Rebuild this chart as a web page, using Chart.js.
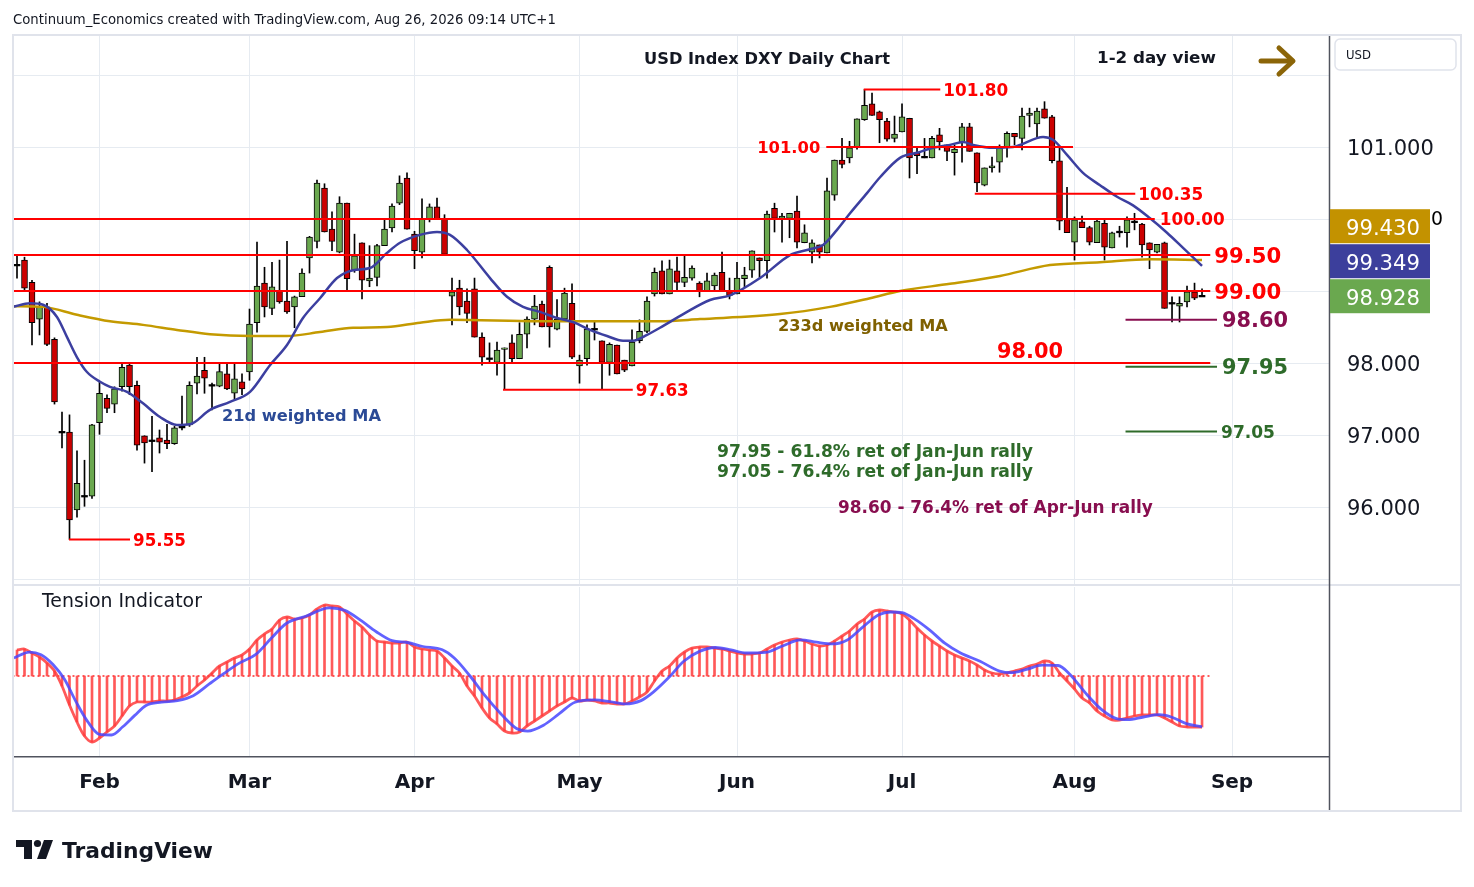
<!DOCTYPE html>
<html><head><meta charset="utf-8">
<script src="https://cdn.jsdelivr.net/npm/chart.js@4/dist/chart.umd.min.js"></script>
<style>
html,body{margin:0;padding:0;background:#fff;}
#wrap{position:relative;width:1474px;height:887px;overflow:hidden;background:#fff;}
canvas{position:absolute;left:0;}
#c1{top:0;}
#c2{top:586px;}
#frame{position:absolute;left:12px;top:34px;width:1450px;height:778px;box-sizing:border-box;border:2px solid #e0e3eb;pointer-events:none;}
</style></head>
<body><div id="wrap">
<canvas id="c1" width="1474" height="614"></canvas>
<canvas id="c2" width="1474" height="301"></canvas>
<div id="frame"></div>
</div>
<script>
// ---------------- DATA ----------------
// Daily candles, Jan 16 2026 .. Aug 26 2026 (trading-day index 0..158)
const openP = [
99.36,99.43,99.12,98.61,98.78,98.33,97.04,97.04,95.96,96.15,
96.15,97.17,97.51,97.43,97.67,97.97,97.69,96.99,96.92,96.96,
96.93,96.88,97.11,97.14,97.72,97.90,97.69,97.68,97.85,97.58,
97.74,97.875,98.56,99.11,98.76,99.01,98.86,98.78,98.92,99.46,
99.69,100.43,99.86,99.54,100.22,99.29,99.67,99.14,99.19,99.63,
99.875,100.22,100.57,99.79,99.54,99.99,100.17,100.01,98.93,99.04,
98.86,99.03,98.36,98.06,98.01,98.19,98.28,98.06,98.40,98.61,
98.82,99.33,98.47,98.61,98.83,97.96,98.06,98.47,98.31,98.01,
98.25,98.04,97.96,98.31,98.44,98.96,99.28,98.96,99.28,99.12,
99.18,99.11,98.99,99.07,99.26,99.00,98.96,99.17,99.29,99.46,
99.42,100.15,100.01,100.01,100.11,99.67,99.54,99.64,99.53,100.33,
100.82,100.85,100.99,101.38,101.60,101.49,101.36,101.12,101.21,101.40,
100.92,100.86,100.85,101.17,101.03,100.92,101.06,101.28,100.92,100.47,
100.71,100.79,100.99,101.19,101.12,101.44,101.32,101.53,101.42,100.81,
100.01,99.68,99.96,99.88,99.67,99.94,99.60,99.82,99.81,99.96,
99.93,99.67,99.54,99.67,98.83,98.79,98.85,98.99,98.93];
const highP = [
99.50,99.47,99.15,98.85,98.83,98.35,97.32,97.28,96.78,96.65,
97.15,97.74,97.56,97.67,97.99,97.99,97.75,96.99,97.26,97.07,
97.15,97.12,97.54,97.74,98.08,98.08,97.72,98.00,98.00,97.99,
97.85,98.75,99.68,99.33,99.40,99.43,99.69,98.93,99.31,99.76,
100.54,100.49,100.10,100.31,100.22,99.79,99.67,99.63,99.65,99.99,
100.21,100.60,100.64,99.83,100.28,100.21,100.29,100.06,99.18,99.15,
99.03,99.18,98.42,98.28,98.29,98.21,98.39,98.56,98.64,98.94,
98.86,99.35,98.88,99.04,99.10,98.11,98.53,98.57,98.31,98.28,
98.25,98.04,98.46,98.60,98.92,99.32,99.42,99.43,99.47,99.49,
99.35,99.13,99.25,99.25,99.54,99.18,99.40,99.33,99.56,99.46,
100.11,100.22,100.08,100.08,100.32,99.92,99.71,99.64,100.57,100.82,
101.12,101.08,101.39,101.80,101.75,101.50,101.40,101.43,101.60,101.40,
100.99,101.12,101.15,101.26,101.03,101.03,101.33,101.33,100.92,100.71,
100.86,101.03,101.21,101.19,101.54,101.54,101.54,101.63,101.44,101.00,
100.44,100.03,100.04,99.90,100.01,100.01,99.82,99.90,100.03,100.08,
99.94,99.67,99.65,99.68,98.92,98.92,99.07,99.11,99.03];
const lowP = [
99.18,99.00,98.25,98.39,98.24,97.43,96.82,95.55,95.86,96.01,
96.12,97.01,97.31,97.31,97.61,97.56,96.79,96.61,96.49,96.75,
96.81,96.87,97.07,97.12,97.57,97.58,97.35,97.67,97.63,97.50,
97.56,97.76,98.43,98.64,98.67,98.83,98.69,98.49,98.92,99.25,
99.60,99.82,99.56,99.53,98.99,99.26,98.89,99.06,99.07,99.63,
99.82,100.20,99.86,99.31,99.46,99.96,99.99,99.50,98.53,98.67,
98.56,98.36,97.97,98.01,97.83,97.63,98.01,98.06,98.21,98.53,
98.50,98.22,98.46,98.58,98.06,97.72,97.97,98.32,97.63,97.83,
97.85,97.88,97.96,98.28,98.42,98.93,98.96,98.96,98.99,99.06,
99.15,98.92,98.99,99.01,99.00,98.89,98.96,99.06,99.19,99.19,
99.18,99.82,99.68,99.74,99.60,99.67,99.39,99.46,99.53,100.26,
100.71,100.78,100.97,101.37,101.44,101.06,101.08,101.07,101.21,100.57,
100.63,100.85,100.85,100.96,100.81,100.61,100.79,100.94,100.38,100.46,
100.65,100.65,100.86,101.03,100.96,101.28,101.14,101.40,100.78,99.85,
99.81,99.43,99.88,99.64,99.67,99.43,99.60,99.75,99.61,99.85,
99.47,99.31,99.53,98.76,98.57,98.57,98.78,98.88,98.92];
const closeP = [
99.36,99.04,98.56,98.78,98.26,97.46,97.04,95.82,96.33,96.15,
97.14,97.58,97.37,97.64,97.94,97.67,96.86,96.89,96.92,96.90,
96.88,97.10,97.11,97.69,97.82,97.79,97.69,97.88,97.64,97.78,
97.64,98.54,99.07,98.78,99.06,98.85,98.71,98.92,99.25,99.75,
100.50,99.82,99.69,100.22,99.17,99.49,99.15,99.18,99.63,99.86,
100.18,100.50,99.86,99.56,100.00,100.17,99.99,99.51,98.99,98.78,
98.69,98.36,98.08,98.06,98.18,98.21,98.06,98.40,98.61,98.79,
98.50,98.50,98.61,98.97,98.08,98.04,98.47,98.47,98.01,98.26,
97.85,97.90,98.29,98.44,98.86,99.26,98.96,99.31,99.12,99.19,
99.32,99.00,99.14,99.22,99.00,98.94,99.18,99.22,99.56,99.42,
100.07,100.01,100.04,100.08,99.68,99.81,99.67,99.54,100.39,100.82,
100.76,100.99,101.39,101.58,101.44,101.38,101.11,101.18,101.42,100.85,
100.88,100.86,101.12,101.07,100.94,100.97,101.28,100.94,100.50,100.71,
100.74,100.99,101.19,101.14,101.43,101.47,101.50,101.40,100.81,99.97,
99.81,99.99,99.88,99.68,99.97,99.61,99.81,99.82,99.99,99.96,
99.64,99.57,99.65,98.76,98.83,98.83,98.99,98.90,98.928];

// 21d weighted MA  [trading-day index, value]
const ma21 = [[-0.53,98.78],[1.73,98.83],[3.47,98.81],[5.33,98.64],[6.67,98.36],[8,98.08],[9.33,97.875],[11.07,97.74],[12.4,97.67],[14.67,97.6],[16.8,97.44],[19.07,97.25],[21.33,97.14],[23.07,97.15],[25.73,97.35],[28.4,97.46],[31.07,97.6],[33.73,97.97],[36,98.25],[38.13,98.625],[40.4,98.9],[42.67,99.18],[44.8,99.29],[47.07,99.32],[49.33,99.53],[51.07,99.67],[53.73,99.78],[56,99.82],[57.73,99.78],[60,99.57],[63.07,99.18],[65.33,98.92],[67.47,98.78],[69.73,98.71],[72,98.625],[74.13,98.57],[76.4,98.46],[78.67,98.375],[80.8,98.31],[82.13,98.31],[84,98.39],[85.73,98.49],[89,98.69],[92.4,98.875],[95.07,98.94],[99.07,99.18],[103.07,99.5],[105.73,99.58],[107.47,99.64],[109.33,99.85],[111.07,100.08],[113.33,100.36],[115.07,100.58],[117.73,100.85],[120,100.92],[122.13,100.99],[124.4,101.03],[126.13,101.07],[127.47,101.03],[130.13,100.99],[132.8,101.0],[133.73,101.03],[136.8,101.14],[138.13,101.1],[140,100.89],[142.13,100.64],[144.4,100.47],[146.67,100.31],[148.8,100.19],[151.07,100.01],[153.33,99.81],[155.47,99.6],[158,99.35]];
// 233d weighted MA
const ma233 = [[-0.53,98.79],[3.47,98.78],[8,98.67],[12.4,98.58],[16.8,98.53],[21.33,98.46],[25.73,98.40],[31.07,98.375],[36,98.375],[40.4,98.43],[44.8,98.49],[49.33,98.5],[53.73,98.56],[57.73,98.6],[69.73,98.58],[85.73,98.58],[91.07,98.61],[101.73,98.68],[108.4,98.78],[113.73,98.9],[117.73,99.0],[124.4,99.1],[131.07,99.21],[137.73,99.36],[144.4,99.40],[151.07,99.44],[158,99.43]];

// Tension indicator (one value per candle) and its signal line
const tensionVals = [26,27,23,19,13,5,-10,-29,-46,-60, -66,-62,-56,-50,-40,-30,-26,-26,-26,-25,
 -25,-24,-21,-17,-10,-4,3,10,14,18, 21,27,36,42,47,56,59,57,58,61,
 67,71,70,69,62,55,49,41,35,34, 33,33,34,29,27,26,25,18,10,3,
 -10,-20,-32,-42,-48,-55,-57,-56,-50,-45, -40,-35,-30,-26,-22,-25,-24,-25,-27,-27,
 -28,-28,-25,-21,-16,-5,5,10,18,24, 28,29,29,28,27,25,23,22,22,23,
 27,31,34,36,37,35,32,30,31,35, 40,45,52,57,64,66,65,64,62,56,
 48,41,35,30,25,21,18,15,11,6, 3,2,3,5,7,10,12,15,13,3,
 -5,-13,-22,-27,-35,-40,-44,-44,-42,-40, -39,-39,-39,-42,-46,-50,-51,-51,-51];
const tensionSignal = [[-0.41,18],[1.67,23.9],[3.2,21.3],[4.8,11.5],[6.33,-3.3],[7.9,-26.2],[9.45,-45.9],[11,-58.4],[12.6,-59],[14.1,-50.8],[15.7,-39.4],[17.2,-29.5],[19.3,-26.2],[21.4,-24.6],[23.5,-19.7],[25.6,-8.2],[27.6,2.6],[29.7,13.1],[31.8,21.3],[33.9,37.7],[35.9,52.5],[38.5,59.7],[41.65,68.2],[43.7,65.6],[45.8,55.8],[47.9,44.3],[50,35.4],[52.05,33.5],[54.1,29.5],[56.7,26.2],[58.3,18],[60.4,0],[62.4,-19.7],[64.5,-37.7],[66.6,-52.5],[68.1,-55.1],[70.2,-49.2],[72.3,-37.7],[74.4,-26.2],[77,-23.9],[79.07,-25.6],[81.1,-27.9],[83.2,-24.6],[84.8,-16.4],[86.9,-1.6],[88.9,14.8],[91,24.6],[93.1,28.5],[95.2,26.2],[97.2,23],[99.8,23.6],[101.9,29.5],[104.5,36.1],[106.6,33.8],[108.7,32.1],[110.7,36.1],[112.8,49.2],[114.9,61.3],[116.5,64],[118,63.3],[119.6,57.4],[121.7,45.9],[123.7,32.8],[125.8,23],[128.4,14.8],[131,4.9],[132.6,3.3],[134.6,6.6],[136.7,10.8],[138.8,10.5],[140.4,1.6],[142.4,-16.4],[144.5,-32.8],[146.6,-42.6],[148.1,-43.6],[150.2,-41],[152.3,-38.7],[153.9,-41],[155.9,-47.6],[158,-50.8]];

// Key levels
const levelValues = [101.80, 101.00, 100.35, 100.00, 99.50, 99.00, 98.00, 95.55, 97.63, 98.60, 97.95, 97.05];
// Month tick labels (trading-day index of first session)
const monthIdx = [11, 31, 53, 75, 96, 118, 141, 162];
const monthNames = ['Feb', 'Mar', 'Apr', 'May', 'Jun', 'Jul', 'Aug', 'Sep'];
const priceGrid = [95, 96, 97, 98, 99, 100, 101, 102];
const priceShown = [101, 98, 97, 96];
const lastValues = [99.430, 99.349, 98.928];   // 233d MA, 21d MA, last close

// ---------------- STYLE / LAYOUT ----------------
const FONT = '"DejaVu Sans", Verdana, sans-serif';
const GRID = '#e6ebf1';
const RED = '#ff0000', MAROON = '#880e4f', DKGREEN = '#2e6b2a';
const UP = '#6aa84f', DOWN = '#cc0000';
const X_MIN = -0.5333, X_MAX = 174.93;
const Y_MIN = 94.931, Y_MAX = 102.556;
const levelSpan = [[112.9,123.1],[107.9,140.8],[127.7,149.1],[-0.6,151.7],[-0.6,159.1],[-0.6,159.1],[-0.6,159.1],[6.93,15.07],[64.8,82.1],[147.8,160.0],[147.8,160.0],[147.8,160.0]];
const levelStyle = [
 {c:RED, side:'right', w:65, gap:3}, {c:RED, side:'left', w:63, gap:6}, {c:RED, side:'right', w:65, gap:3},
 {c:RED, side:'right', w:65, gap:5}, {c:RED, side:'right', w:67, gap:4}, {c:RED, side:'right', w:67, gap:4},
 {c:RED, side:'free', at:130.67, w:66, dy:-13}, {c:RED, side:'right', w:53, gap:3}, {c:RED, side:'right', w:53, gap:3},
 {c:MAROON, side:'right', w:66, gap:5}, {c:DKGREEN, side:'right', w:66, gap:5}, {c:DKGREEN, side:'right', w:54, gap:4}];
const boxColors = ['#c39200', '#3c3f9c', '#6aa84f'];

// draws text fitted to a width; y is the visual centre of capitals/digits
function fitText(ctx, text, x, y, w, color, weight, align) {
  ctx.font = (weight||'normal') + ' 100px ' + FONT;
  const s = 100 * w / ctx.measureText(text).width;
  ctx.font = (weight||'normal') + ' ' + s.toFixed(2) + 'px ' + FONT;
  ctx.fillStyle = color; ctx.textAlign = align || 'left'; ctx.textBaseline = 'alphabetic';
  ctx.fillText(text, x, y + 0.365 * s);
}

const idx = openP.map((_, i) => i);
const isDoji = i => Math.abs(closeP[i] - openP[i]) < 0.012;
const wickData = idx.map(i => ({x: i, y: [lowP[i], highP[i]]}));
const bodyData = idx.map(i => {
  if (isDoji(i)) { const m = (openP[i] + closeP[i]) / 2; return {x: i, y: [m - 0.011, m + 0.011]}; }
  return {x: i, y: [openP[i], closeP[i]]};
});
const bodyColor = idx.map(i => isDoji(i) ? '#000' : (closeP[i] > openP[i] ? UP : DOWN));
const bodyBorder = idx.map(i => isDoji(i) ? 0 : 1);

const levelDatasets = levelValues.map((v, k) => ({
  type: 'line', data: [{x: levelSpan[k][0], y: v}, {x: levelSpan[k][1], y: v}],
  borderColor: levelStyle[k].c, borderWidth: 2, pointRadius: 0, order: 0
}));

const xTicks = s => { s.ticks = monthIdx.map(v => ({value: v})); };

const annot1 = {
  id: 'annot1',
  afterDraw(chart) {
    const ctx = chart.ctx, xs = chart.scales.x, ys = chart.scales.y;
    ctx.save();
    // level labels
    levelValues.forEach((v, k) => {
      const st = levelStyle[k], txt = v.toFixed(2);
      const y = ys.getPixelForValue(v) + (st.dy || 0);
      if (st.side === 'right') fitText(ctx, txt, xs.getPixelForValue(levelSpan[k][1]) + st.gap, y, st.w, st.c, 'bold', 'left');
      else if (st.side === 'left') fitText(ctx, txt, xs.getPixelForValue(levelSpan[k][0]) - st.gap, y, st.w, st.c, 'bold', 'right');
      else fitText(ctx, txt, xs.getPixelForValue(st.at), y, st.w, st.c, 'bold', 'left');
    });
    // notes
    fitText(ctx, '233d weighted MA', 778, 325, 170, '#7f6000', 'bold');
    fitText(ctx, '21d weighted MA', 222, 415, 159, '#2b4a96', 'bold');
    fitText(ctx, '97.95 - 61.8% ret of Jan-Jun rally', 717, 451, 316, DKGREEN, 'bold');
    fitText(ctx, '97.05 - 76.4% ret of Jan-Jun rally', 717, 471, 316, DKGREEN, 'bold');
    fitText(ctx, '98.60 - 76.4% ret of Apr-Jun rally', 838, 507, 315, MAROON, 'bold');
    fitText(ctx, 'USD Index DXY Daily Chart', 644, 58, 246, '#131722', 'bold');
    fitText(ctx, '1-2 day view', 1097, 57, 119, '#131722', 'bold');
    fitText(ctx, 'Continuum_Economics created with TradingView.com, Aug 26, 2026 09:14 UTC+1', 13, 19, 543, '#131722', 'normal');
    // arrow
    ctx.strokeStyle = '#8b6508'; ctx.lineWidth = 5; ctx.lineCap = 'round'; ctx.lineJoin = 'round';
    ctx.beginPath(); ctx.moveTo(1261, 61); ctx.lineTo(1292, 61); ctx.stroke();
    ctx.beginPath(); ctx.moveTo(1279, 48); ctx.lineTo(1293, 61); ctx.lineTo(1279, 74); ctx.stroke();
    // separators
    ctx.lineCap = 'butt';
    ctx.strokeStyle = '#e0e3eb'; ctx.lineWidth = 2;
    ctx.beginPath(); ctx.moveTo(12, 585); ctx.lineTo(1462, 585); ctx.stroke();
    ctx.strokeStyle = '#50535e'; ctx.lineWidth = 1.5;
    ctx.beginPath(); ctx.moveTo(1329.5, 35); ctx.lineTo(1329.5, 586); ctx.stroke();
    // USD box
    ctx.strokeStyle = '#e0e3eb'; ctx.lineWidth = 1.5;
    ctx.beginPath(); ctx.roundRect(1335, 39, 121, 31, 5); ctx.stroke();
    fitText(ctx, 'USD', 1346, 55, 25, '#131722', 'normal');
    // last value boxes
    const pos = lastValues.map((v, k) => ({v, k, y: ys.getPixelForValue(v)})).sort((a, b) => b.y - a.y);
    let prev = Infinity;
    pos.forEach(p => { p.cy = Math.min(p.y, prev - 35); prev = p.cy; });
    pos.forEach(p => {
      ctx.fillStyle = boxColors[p.k];
      ctx.fillRect(1330, p.cy - 17, 100, 34);
      fitText(ctx, p.v.toFixed(3), 1346, p.cy + 1, 74, '#ffffff', 'normal');
    });
    const top = pos[pos.length - 1];
    fitText(ctx, '0', 1431, top.cy - 8, 12, '#000000', 'normal');
    ctx.restore();
  }
};

new Chart(document.getElementById('c1'), {
  type: 'bar',
  data: { datasets: [
    ...levelDatasets,
    {type: 'line', data: ma21.map(p => ({x: p[0], y: p[1]})), borderColor: '#3c3fa0', borderWidth: 2.5, pointRadius: 0, cubicInterpolationMode: 'monotone', order: 1},
    {type: 'line', data: ma233.map(p => ({x: p[0], y: p[1]})), borderColor: '#c49a00', borderWidth: 2.5, pointRadius: 0, cubicInterpolationMode: 'monotone', order: 1},
    {type: 'bar', data: bodyData, backgroundColor: bodyColor, borderColor: '#000', borderWidth: bodyBorder, borderSkipped: false, barThickness: 6, grouped: false, order: 2},
    {type: 'bar', data: wickData, backgroundColor: '#000', barThickness: 1, grouped: false, order: 3}
  ]},
  options: {
    responsive: false, animation: false, devicePixelRatio: 1,
    layout: {padding: {left: 13, top: 35, right: 13, bottom: 0}},
    plugins: {legend: {display: false}, tooltip: {enabled: false}},
    scales: {
      x: {type: 'linear', min: X_MIN, max: X_MAX, offset: false,
          grid: {offset: false, color: GRID, drawTicks: false}, border: {display: false},
          ticks: {display: false}, afterBuildTicks: xTicks, afterFit: s => { s.height = 0; }},
      y: {type: 'linear', position: 'right', min: Y_MIN, max: Y_MAX,
          grid: {color: GRID, drawTicks: false}, border: {display: false},
          ticks: {padding: 18, labelOffset: 3, color: '#131722', font: {family: FONT, size: 21, lineHeight: 24 / 21},
                  callback: v => priceShown.includes(v) ? v.toFixed(3) : ''},
          afterBuildTicks: s => { s.ticks = priceGrid.map(v => ({value: v})); },
          afterFit: s => { s.width = 132; }}
    }
  },
  plugins: [annot1]
});

const annot2 = {
  id: 'annot2',
  afterDraw(chart) {
    const ctx = chart.ctx;
    ctx.save();
    fitText(ctx, 'Tension Indicator', 42, 14, 160, '#131722', 'normal');
    ctx.strokeStyle = '#50535e'; ctx.lineWidth = 1.5;
    ctx.beginPath(); ctx.moveTo(1329.5, 0); ctx.lineTo(1329.5, 226); ctx.stroke();
    // TradingView logo
    const oy = 586;
    ctx.fillStyle = '#131722';
    ctx.fillRect(16, 840 - oy, 16, 7);
    ctx.fillRect(24, 840 - oy, 8, 19);
    ctx.beginPath(); ctx.arc(37.5, 843.5 - oy, 3.6, 0, Math.PI * 2); ctx.fill();
    ctx.beginPath(); ctx.moveTo(44, 840 - oy); ctx.lineTo(53, 840 - oy); ctx.lineTo(46, 859 - oy); ctx.lineTo(37, 859 - oy); ctx.closePath(); ctx.fill();
    fitText(ctx, 'TradingView', 62, 850 - oy, 151, '#131722', 'bold');
    ctx.restore();
  }
};

new Chart(document.getElementById('c2'), {
  type: 'bar',
  data: { datasets: [
    {type: 'line', data: [{x: -0.6, y: 0}, {x: 159.2, y: 0}], borderColor: '#ff2a2a', borderWidth: 1.5, borderDash: [2, 3], pointRadius: 0, order: 3},
    {type: 'line', data: tensionSignal.map(p => ({x: p[0], y: p[1]})), borderColor: 'rgba(70,70,255,0.85)', borderWidth: 2.8, pointRadius: 0, cubicInterpolationMode: 'monotone', order: 0},
    {type: 'line', data: idx.map(i => ({x: i, y: tensionVals[i]})), borderColor: 'rgba(255,60,60,0.85)', borderWidth: 2.8, pointRadius: 0, tension: 0.3, order: 1},
    {type: 'bar', data: idx.map(i => ({x: i, y: tensionVals[i]})), backgroundColor: 'rgba(255,60,60,0.85)', barThickness: 2, grouped: false, order: 2}
  ]},
  options: {
    responsive: false, animation: false, devicePixelRatio: 1,
    layout: {padding: {left: 13, top: 1, right: 13, bottom: 75}},
    plugins: {legend: {display: false}, tooltip: {enabled: false}},
    scales: {
      x: {type: 'linear', min: X_MIN, max: X_MAX, offset: false,
          grid: {offset: false, color: GRID, drawTicks: false},
          border: {display: true, color: '#50535e', width: 1.5},
          ticks: {padding: 14, color: '#131722', font: {family: FONT, size: 20, weight: 'bold'}, maxRotation: 0, autoSkip: false,
                  callback: v => { const k = monthIdx.indexOf(v); return k >= 0 ? monthNames[k] : ''; }},
          afterBuildTicks: xTicks, afterFit: s => { s.height = 55; }},
      y: {type: 'linear', position: 'right', min: -81, max: 89,
          grid: {display: false}, border: {display: false}, ticks: {display: false},
          afterFit: s => { s.width = 132; }}
    }
  },
  plugins: [annot2]
});
</script>
</body></html>
